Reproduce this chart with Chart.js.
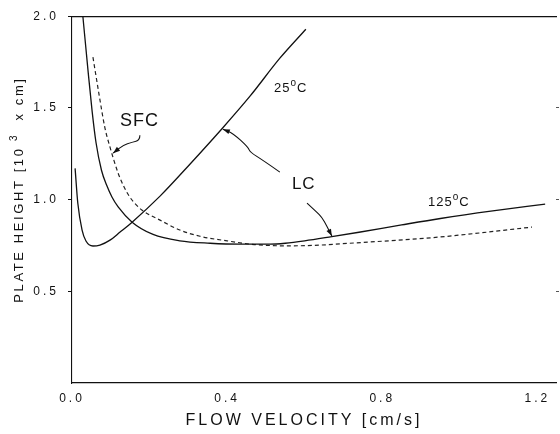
<!DOCTYPE html>
<html>
<head>
<meta charset="utf-8">
<script src="https://cdn.jsdelivr.net/npm/chart.js@4.4.1/dist/chart.umd.min.js"></script>
<style>
  html, body { margin: 0; padding: 0; background: #fff; }
  #wrap { width: 560px; height: 434px; }
</style>
</head>
<body>
<div id="wrap"><canvas id="plate"></canvas></div>
<script>
// Plate height (10^3 x cm) against flow velocity (cm/s)
var lc25Velocity = [0.008, 0.015, 0.026, 0.036, 0.054, 0.072, 0.098, 0.124, 0.155, 0.227, 0.304, 0.389, 0.459, 0.536, 0.603];
var lc25Height   = [1.17, 0.98, 0.834, 0.774, 0.747, 0.752, 0.779, 0.823, 0.877, 1.019, 1.193, 1.392, 1.564, 1.771, 1.929];

var lc125Velocity = [0.028, 0.041, 0.052, 0.062, 0.076, 0.090, 0.103, 0.119, 0.155, 0.209, 0.278, 0.356, 0.433, 0.51, 0.55, 0.60, 0.67, 0.74, 0.85, 0.95, 1.08, 1.22];
var lc125Height   = [2.0, 1.71, 1.48, 1.31, 1.16, 1.075, 1.014, 0.96, 0.877, 0.81, 0.775, 0.762, 0.757, 0.757, 0.762, 0.775, 0.798, 0.822, 0.862, 0.897, 0.937, 0.975];

var sfcVelocity = [0.054, 0.070, 0.085, 0.098, 0.119, 0.134, 0.149, 0.165, 0.180, 0.227, 0.278, 0.330, 0.40, 0.47, 0.55, 0.62, 0.716, 0.948, 1.186];
var sfcHeight   = [1.777, 1.57, 1.39, 1.286, 1.144, 1.07, 1.014, 0.973, 0.943, 0.888, 0.834, 0.80, 0.775, 0.755, 0.748, 0.75, 0.762, 0.796, 0.85];

var xTicks = [0, 0.4, 0.8, 1.2];
var yTicks = [0.5, 1.0, 1.5, 2.0];
var rightTicks = [0.5, 1.0, 1.5];

// text on the plot, anchored in data units (left edge, baseline)
var labelSFC  = [0.124, 1.40];
var labelLC   = [0.567, 1.057];
var label25   = [0.521, 1.586];
var label125  = [0.918, 0.965];

// pointer lines from the labels to the curves, ending at the arrow tip
var arrowSFC = [[0.175, 1.351], [0.175, 1.324], [0.155, 1.313], [0.131, 1.297], [0.106, 1.253]];
var arrowLC1 = [[0.536, 1.150], [0.492, 1.215], [0.459, 1.259], [0.454, 1.286], [0.415, 1.362], [0.389, 1.384]];
var arrowLC2 = [[0.606, 0.981], [0.631, 0.932], [0.644, 0.905], [0.657, 0.856], [0.670, 0.801]];

var FONT = "'Liberation Sans', Arial, sans-serif";
var INK = '#111';

function toPoints(vs, hs) {
  var pts = [];
  for (var i = 0; i < vs.length; i++) pts.push({ x: vs[i], y: hs[i] });
  return pts;
}

function curve(vs, hs, dash, colour, width) {
  return {
    data: toPoints(vs, hs),
    borderColor: colour || INK,
    borderWidth: width || 1.3,
    borderDash: dash || [],
    pointRadius: 0,
    fill: false,
    cubicInterpolationMode: 'monotone'
  };
}

// draw text made of normal and raised parts; x is left edge unless centred
function richText(ctx, parts, x, y, size, centre) {
  var total = 0, i, p;
  for (i = 0; i < parts.length; i++) {
    p = parts[i];
    ctx.font = (p.sup ? Math.round(size * 0.75) : size) + 'px ' + FONT;
    p.w = ctx.measureText(p.t).width;
    total += p.w;
  }
  var cx = centre ? x - total / 2 : x;
  for (i = 0; i < parts.length; i++) {
    p = parts[i];
    ctx.font = (p.sup ? Math.round(size * 0.75) : size) + 'px ' + FONT;
    ctx.fillText(p.t, cx, p.sup ? y - size * 0.45 : y);
    cx += p.w;
  }
}

function pointer(ctx, xs, ys, pts) {
  var px = pts.map(function (p) { return [xs.getPixelForValue(p[0]), ys.getPixelForValue(p[1])]; });
  ctx.beginPath();
  ctx.moveTo(px[0][0], px[0][1]);
  for (var i = 1; i < px.length - 1; i++) {
    var mx = (px[i][0] + px[i + 1][0]) / 2, my = (px[i][1] + px[i + 1][1]) / 2;
    ctx.quadraticCurveTo(px[i][0], px[i][1], mx, my);
  }
  var tip = px[px.length - 1], prev = px[px.length - 2];
  ctx.lineTo(tip[0], tip[1]);
  ctx.stroke();
  // arrow head
  var a = Math.atan2(tip[1] - prev[1], tip[0] - prev[0]);
  ctx.beginPath();
  ctx.moveTo(tip[0], tip[1]);
  ctx.lineTo(tip[0] - 7 * Math.cos(a) + 2.5 * Math.sin(a), tip[1] - 7 * Math.sin(a) - 2.5 * Math.cos(a));
  ctx.lineTo(tip[0] - 7 * Math.cos(a) - 2.5 * Math.sin(a), tip[1] - 7 * Math.sin(a) + 2.5 * Math.cos(a));
  ctx.closePath();
  ctx.fill();
}

var notes = {
  id: 'notes',
  beforeDraw: function (chart) {
    chart.ctx.letterSpacing = '3px';
  },
  afterDraw: function (chart) {
    var ctx = chart.ctx, xs = chart.scales.x, ys = chart.scales.y, area = chart.chartArea;
    ctx.save();
    ctx.fillStyle = INK;
    ctx.strokeStyle = INK;
    ctx.lineWidth = 1.1;
    ctx.textBaseline = 'alphabetic';
    ctx.textAlign = 'left';

    // axis titles
    ctx.letterSpacing = '3px';
    richText(ctx, [{ t: 'FLOW VELOCITY [cm/s]' }], (area.left + area.right) / 2 - 10, 425, 16, true);
    ctx.save();
    ctx.translate(23, (area.top + area.bottom) / 2 - 10);
    ctx.rotate(-Math.PI / 2);
    ctx.letterSpacing = '2.6px';
    richText(ctx, [{ t: 'PLATE HEIGHT [10' }, { t: ' 3', sup: true }, { t: '  x cm]' }], 0, 0, 13, true);
    ctx.restore();

    // curve labels
    ctx.letterSpacing = '1px';
    richText(ctx, [{ t: 'SFC' }], xs.getPixelForValue(labelSFC[0]), ys.getPixelForValue(labelSFC[1]), 18);
    richText(ctx, [{ t: 'LC' }], xs.getPixelForValue(labelLC[0]), ys.getPixelForValue(labelLC[1]), 17);
    richText(ctx, [{ t: '25' }, { t: 'o', sup: true }, { t: 'C' }], xs.getPixelForValue(label25[0]), ys.getPixelForValue(label25[1]), 13);
    richText(ctx, [{ t: '125' }, { t: 'o', sup: true }, { t: 'C' }], xs.getPixelForValue(label125[0]), ys.getPixelForValue(label125[1]), 13);

    pointer(ctx, xs, ys, arrowSFC);
    pointer(ctx, xs, ys, arrowLC1);
    pointer(ctx, xs, ys, arrowLC2);
    ctx.restore();
  }
};

new Chart(document.getElementById('plate'), {
  type: 'line',
  data: {
    datasets: [
      curve(lc25Velocity, lc25Height),
      curve(lc125Velocity, lc125Height),
      curve(sfcVelocity, sfcHeight, [4, 3], '#222', 1.2)
    ]
  },
  options: {
    responsive: true,
    maintainAspectRatio: false,
    animation: false,
    events: [],
    layout: { padding: { top: 16, right: 4, left: 0, bottom: 0 } },
    plugins: { legend: { display: false }, tooltip: { enabled: false } },
    scales: {
      x: {
        type: 'linear',
        min: 0,
        max: 1.248,
        afterBuildTicks: function (s) { s.ticks = xTicks.map(function (v) { return { value: v }; }); },
        afterFit: function (s) { s.height = 51; },
        grid: { display: false, drawTicks: false },
        border: { color: INK, width: 1.2 },
        ticks: {
          color: INK,
          padding: 8,
          maxRotation: 0,
          font: { family: FONT, size: 12 },
          callback: function (v) { return v.toFixed(1); }
        }
      },
      xTop: {
        type: 'linear',
        position: 'top',
        min: 0,
        max: 1.248,
        afterFit: function (s) { s.height = 0; },
        grid: { display: false, drawTicks: false },
        border: { color: INK, width: 1.2 },
        ticks: { display: false }
      },
      y: {
        min: 0,
        max: 2.0,
        afterBuildTicks: function (s) { s.ticks = yTicks.map(function (v) { return { value: v }; }); },
        afterFit: function (s) { s.width = 72; },
        grid: { drawOnChartArea: false, tickLength: 4, color: INK },
        border: { color: INK, width: 1.1, dash: [12, 3] },
        ticks: {
          color: INK,
          padding: 9,
          font: { family: FONT, size: 12 },
          callback: function (v) { return v.toFixed(1); }
        }
      },
      yRight: {
        position: 'right',
        min: 0,
        max: 2.0,
        afterBuildTicks: function (s) { s.ticks = rightTicks.map(function (v) { return { value: v }; }); },
        afterFit: function (s) { s.width = 0; },
        grid: { drawOnChartArea: false, tickLength: 3, color: '#555' },
        border: { display: false },
        ticks: { display: false }
      }
    }
  },
  plugins: [notes]
});
</script>
</body>
</html>
